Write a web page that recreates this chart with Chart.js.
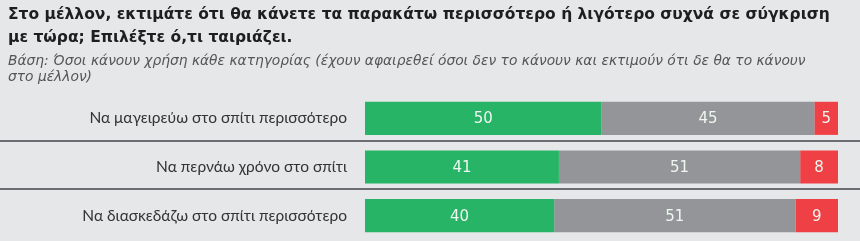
<!DOCTYPE html>
<html>
<head>
<meta charset="utf-8">
<script src="https://cdn.jsdelivr.net/npm/chart.js@4"></script>
<style>
  html, body { margin: 0; padding: 0; background: #e6e7e8; }
  body { width: 860px; height: 241px; position: relative; overflow: hidden; }
  #title { position: absolute; left: 8px; top: 3px; font: bold 15.5px "DejaVu Sans", sans-serif; line-height: 23px; color: #1e1e1e; white-space: nowrap; }
  #subtitle { position: absolute; left: 8px; top: 52px; font: italic 13.8px "DejaVu Sans", sans-serif; line-height: 16px; color: #555; white-space: nowrap; }
  #chart { position: absolute; left: 0; top: 0; }
</style>
</head>
<body>
<canvas id="chart" width="860" height="241"></canvas>
<div id="title">Στο μέλλον, εκτιμάτε ότι θα κάνετε τα παρακάτω περισσότερο ή λιγότερο συχνά σε σύγκριση<br>με τώρα; Επιλέξτε ό,τι ταιριάζει.</div>
<div id="subtitle">Βάση: Όσοι κάνουν χρήση κάθε κατηγορίας (έχουν αφαιρεθεί όσοι δεν το κάνουν και εκτιμούν ότι δε θα το κάνουν<br>στο μέλλον)</div>
<script>
// Data
const categories = [
  "Να μαγειρεύω στο σπίτι περισσότερο",
  "Να περνάω χρόνο στο σπίτι",
  "Να διασκεδάζω στο σπίτι περισσότερο"
];
const more = [50, 41, 40];
const same = [45, 51, 51];
const less = [5, 8, 9];

const colors = ["#27b466", "#939598", "#ef4046"];

// white numbers in the middle of each segment
const valueLabels = {
  id: "valueLabels",
  afterDatasetsDraw(chart) {
    const ctx = chart.ctx;
    ctx.save();
    ctx.font = "15px 'DejaVu Sans', sans-serif";
    ctx.fillStyle = "#eef6f0";
    ctx.textAlign = "center";
    ctx.textBaseline = "middle";
    chart.data.datasets.forEach((ds, i) => {
      chart.getDatasetMeta(i).data.forEach((bar, j) => {
        const x = (bar.x + bar.base) / 2;
        ctx.fillText(ds.data[j], x, bar.y + 1);
      });
    });
    ctx.restore();
  }
};

// dark rules between the rows, full width
const separators = {
  id: "separators",
  beforeDatasetsDraw(chart) {
    const ctx = chart.ctx;
    const y = chart.scales.y;
    ctx.save();
    ctx.strokeStyle = "#6d6e71";
    ctx.lineWidth = 2;
    for (let i = 0; i < categories.length - 1; i++) {
      const py = Math.round((y.getPixelForValue(i) + y.getPixelForValue(i + 1)) / 2) - 2;
      ctx.beginPath();
      ctx.moveTo(0, py);
      ctx.lineTo(chart.width, py);
      ctx.stroke();
    }
    ctx.restore();
  }
};

new Chart(document.getElementById("chart"), {
  type: "bar",
  data: {
    labels: categories,
    datasets: [
      { label: "Περισσότερο", data: more, backgroundColor: colors[0] },
      { label: "Ίδια", data: same, backgroundColor: colors[1] },
      { label: "Λιγότερο", data: less, backgroundColor: colors[2] }
    ]
  },
  options: {
    indexAxis: "y",
    responsive: false,
    animation: false,
    layout: { padding: { top: 94, bottom: 1, left: 0, right: 22 } },
    datasets: { bar: { categoryPercentage: 1, barPercentage: 0.68, borderWidth: 0 } },
    scales: {
      x: { stacked: true, min: 0, max: 100, display: false },
      y: {
        stacked: true,
        grid: { display: false, drawTicks: false },
        border: { display: false },
        afterFit(scale) {
          scale.width = 365;
          scale.paddingTop = 0;
          scale.paddingBottom = 0;
        },
        ticks: {
          color: "#333",
          padding: 18,
          font: { family: "Lato, sans-serif", size: 15.5 }
        }
      }
    },
    plugins: {
      legend: { display: false },
      tooltip: { enabled: false }
    }
  },
  plugins: [separators, valueLabels]
});
</script>
</body>
</html>
